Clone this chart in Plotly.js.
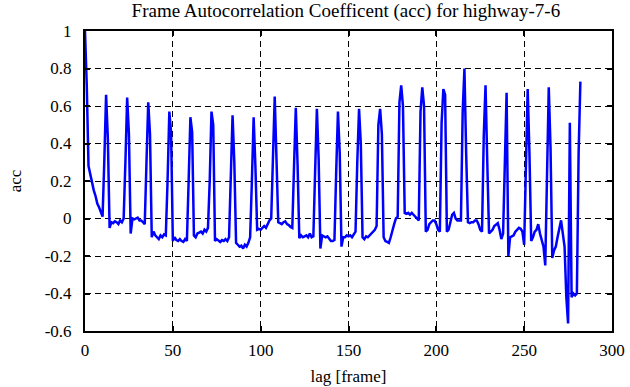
<!DOCTYPE html>
<html>
<head>
<meta charset="utf-8">
<script src="https://cdn.plot.ly/plotly-3.0.1.min.js"></script>
<style>html,body{margin:0;padding:0;background:#fff;}#chart{width:630px;height:387px;}</style>
</head>
<body>
<div id="chart"></div>
<script>
const chartTitle = "Frame Autocorrelation Coefficent (acc) for highway-7-6";
const xLabel = "lag [frame]";
const yLabel = "acc";
const xTicks = [0, 50, 100, 150, 200, 250, 300];
const yTicks = [-0.6, -0.4, -0.2, 0, 0.2, 0.4, 0.6, 0.8, 1];
const yTickText = ["-0.6", "-0.4", "-0.2", "0", "0.2", "0.4", "0.6", "0.8", "1"];

// acc value for each lag (frame index 0..282)
const acc = [
  1.0, 0.71, 0.28, 0.23, 0.19, 0.15, 0.12, 0.08, 0.06, 0.03,
  0.01, 0.31, 0.66, 0.43, -0.05, -0.02, -0.025, -0.015, -0.02, -0.03,
  -0.01, -0.02, 0.0, 0.3, 0.645, 0.45, -0.08, 0.0, -0.005, 0.0,
  0.005, -0.01, -0.01, -0.02, -0.03, 0.3, 0.62, 0.45, -0.1, -0.07,
  -0.09, -0.1, -0.11, -0.09, -0.1, -0.085, -0.09, 0.2, 0.57, 0.46,
  -0.12, -0.1, -0.115, -0.12, -0.11, -0.12, -0.125, -0.11, -0.12, 0.2,
  0.54, 0.46, -0.09, -0.1, -0.08, -0.075, -0.07, -0.08, -0.06, -0.07,
  -0.05, 0.2, 0.57, 0.5, -0.12, -0.11, -0.12, -0.125, -0.115, -0.12,
  -0.11, -0.12, -0.1, 0.2, 0.55, 0.3, -0.13, -0.14, -0.15, -0.145,
  -0.16, -0.14, -0.15, -0.13, -0.1, 0.2, 0.54, 0.28, -0.06, -0.055,
  -0.06, -0.05, -0.04, -0.05, -0.03, -0.01, 0.0, 0.37, 0.65, 0.32,
  -0.02, -0.025, -0.03, -0.02, -0.015, -0.03, -0.035, -0.045, -0.05, 0.28,
  0.59, 0.29, -0.105, -0.09, -0.1, -0.095, -0.09, -0.1, -0.08, -0.1,
  -0.095, 0.25, 0.585, 0.32, -0.16, -0.09, -0.095, -0.1, -0.095, -0.11,
  -0.12, -0.12, -0.115, 0.25, 0.57, 0.35, -0.15, -0.1, -0.1, -0.09,
  -0.095, -0.09, -0.1, -0.085, -0.07, 0.3, 0.585, 0.4, -0.1, -0.11,
  -0.095, -0.1, -0.09, -0.08, -0.07, -0.06, -0.04, 0.5, 0.585, 0.45,
  -0.1, -0.12, -0.125, -0.13, -0.1, -0.06, -0.03, 0.0, 0.01, 0.62,
  0.71, 0.6, 0.03, 0.025, 0.03, 0.02, 0.03, 0.02, 0.01, 0.0,
  -0.01, 0.57, 0.70, 0.6, -0.07, -0.06, -0.03, -0.02, -0.01, -0.01,
  -0.03, -0.06, -0.07, 0.51, 0.69, 0.66, -0.07, -0.06, -0.02, 0.02,
  0.03, 0.0, -0.01, -0.01, -0.01, 0.57, 0.80, 0.34, -0.02, -0.025,
  -0.02, -0.02, -0.01, -0.01, -0.03, -0.06, -0.07, 0.44, 0.71, 0.30,
  -0.08, -0.07, -0.06, -0.04, -0.03, -0.025, -0.06, -0.11, -0.08, 0.36,
  0.67, -0.2, -0.1, -0.095, -0.09, -0.07, -0.06, -0.05, -0.055, -0.07,
  -0.14, 0.35, 0.69, 0.35, -0.12, -0.1, -0.07, -0.06, -0.03, -0.08,
  -0.12, -0.15, -0.25, 0.26, 0.70, 0.38, -0.21, -0.17, -0.15, -0.1,
  -0.05, -0.01, -0.08, -0.15, -0.42, -0.56, 0.51, -0.42, -0.40, -0.41,
  -0.40, 0.35, 0.73
];
const lag = acc.map((_, i) => i);

const serif = "Liberation Serif, Times New Roman, serif";
const axisCommon = {
  showline: true, linecolor: "#000", linewidth: 2, mirror: "ticks",
  ticks: "inside", ticklen: 5, tickwidth: 2, tickcolor: "#000",
  showgrid: true, gridcolor: "#000", gridwidth: 1, griddash: "6px,4px",
  zeroline: false,
  tickfont: {family: serif, size: 17, color: "#000"}
};

const layout = {
  width: 630, height: 387,
  margin: {l: 85, r: 18, t: 31, b: 56},
  paper_bgcolor: "#fff", plot_bgcolor: "#fff",
  showlegend: false,
  title: {text: chartTitle, font: {family: serif, size: 19, color: "#000"},
          x: 0.549, xanchor: "center", yref: "container", y: 0.972, yanchor: "middle"},
  xaxis: Object.assign({}, axisCommon, {
    range: [0, 300], tickvals: xTicks, ticktext: xTicks.map(String),
    ticklabelstandoff: 3,
    title: {text: xLabel, font: {family: serif, size: 17, color: "#000"}, standoff: 11}
  }),
  yaxis: Object.assign({}, axisCommon, {
    range: [-0.6, 1], tickvals: yTicks, ticktext: yTickText,
    ticklabelstandoff: 8,
    title: {text: yLabel, font: {family: serif, size: 17, color: "#000"}, standoff: 19}
  })
};

const trace = {
  x: lag, y: acc, type: "scatter", mode: "lines",
  line: {color: "#0000ff", width: 2.5},
  hoverinfo: "skip"
};

Plotly.newPlot("chart", [trace], layout, {staticPlot: true, displayModeBar: false});
</script>
</body>
</html>
